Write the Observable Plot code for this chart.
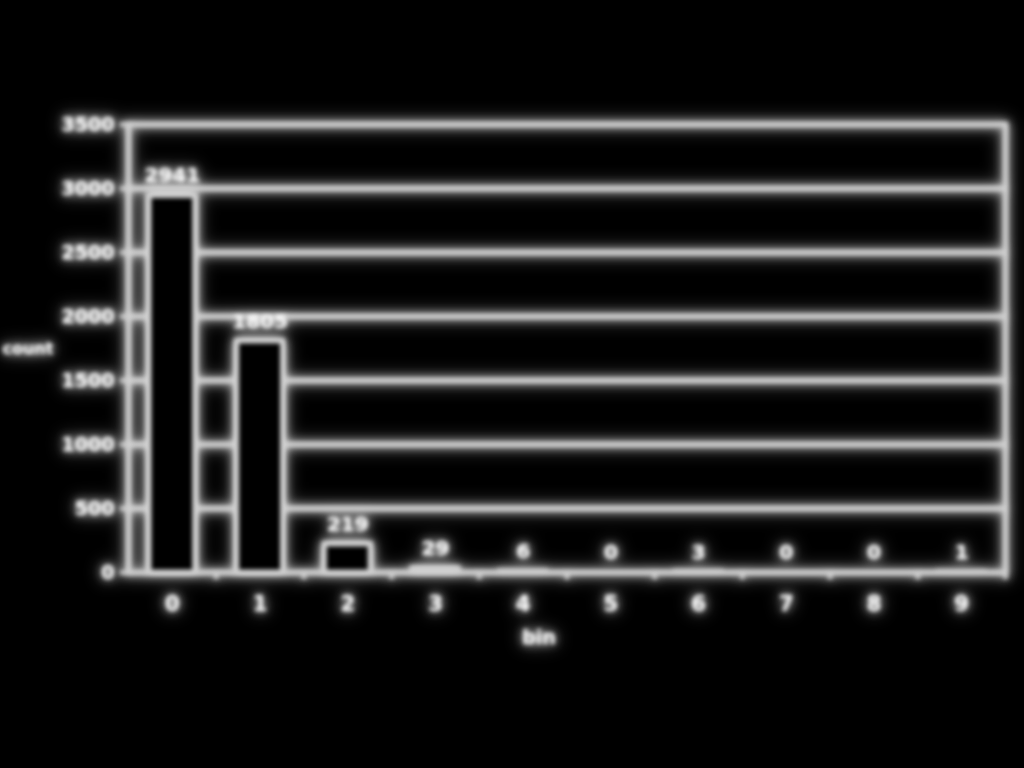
<!DOCTYPE html>
<html>
<head>
<meta charset="utf-8">
<script src="https://cdn.jsdelivr.net/npm/d3@7"></script>
<script src="https://cdn.jsdelivr.net/npm/@observablehq/plot@0.6"></script>
<style>
  html, body { margin: 0; padding: 0; background: #000; }
  #chart svg { display: block; filter: blur(2.2px) drop-shadow(0 0 4px rgba(255,255,255,0.9)) drop-shadow(0 0 8px rgba(255,255,255,0.45)); }
</style>
</head>
<body>
<div id="chart"></div>
<script>
const bins = [0, 1, 2, 3, 4, 5, 6, 7, 8, 9];
const counts = [2941, 1805, 219, 29, 6, 0, 3, 0, 0, 1];
const yTicks = [0, 500, 1000, 1500, 2000, 2500, 3000, 3500];
const binEdges = [1, 2, 3, 4, 5, 6, 7, 8, 9, 10];

const data = bins.map((b, i) => ({bin: b, count: counts[i]}));
const line = "#d0d0d0";

const chart = Plot.plot({
  width: 1024,
  height: 768,
  marginLeft: 128,
  marginRight: 19,
  marginTop: 124,
  marginBottom: 196,
  style: {background: "none", color: "#fff", fontFamily: "DejaVu Sans, sans-serif", fontSize: "19px", fontWeight: "bold"},
  x: {domain: [0, 10], axis: null},
  y: {domain: [0, 3500], axis: null},
  marks: [
    Plot.gridY(yTicks, {stroke: line, strokeOpacity: 1, strokeWidth: 5}),
    Plot.frame({stroke: line, strokeWidth: 5}),
    Plot.rectY(data.filter(d => d.count > 0), {x1: "bin", x2: d => d.bin + 1, y: "count", insetLeft: 21, insetRight: 21, fill: "#000", stroke: line, strokeWidth: 5}),
    Plot.axisY(yTicks, {tickSize: 8, tickPadding: 6, tickFormat: "d", stroke: line, strokeWidth: 4, fill: "#fff", label: null}),
    Plot.axisX(binEdges, {tickSize: 7, tickFormat: () => "", stroke: line, strokeWidth: 4, label: null}),
    Plot.axisX(bins.map(b => b + 0.5), {tickSize: 0, tickPadding: 24, tickFormat: d => String(Math.floor(d)), fill: "#fff", fontSize: 21, label: null}),
    Plot.text(data, {x: d => d.bin + 0.5, y: "count", text: d => String(d.count), dy: -20, fill: "#fff", fontSize: 20}),
    Plot.text(["count"], {frameAnchor: "left", dx: -126, textAnchor: "start", fill: "#fff", fontSize: 16}),
    Plot.text(["bin"], {frameAnchor: "bottom", dx: -28, dy: 71, fill: "#fff"})
  ]
});
document.getElementById("chart").append(chart);
</script>
</body>
</html>
